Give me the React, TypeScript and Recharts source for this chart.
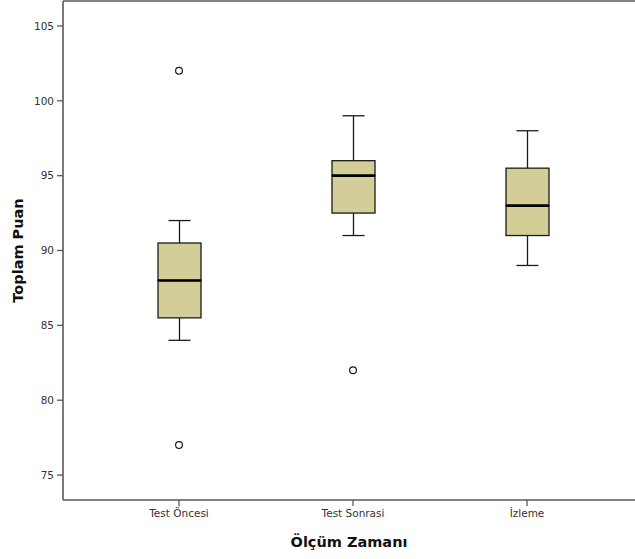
import { Bar, ComposedChart, Label, Scatter, XAxis, YAxis } from "recharts"

const categories = ["Test Öncesi", "Test Sonrasi", "İzleme"]
const mins = [84, 91, 89]
const q1s = [85.5, 92.5, 91]
const medians = [88, 95, 93]
const q3s = [90.5, 96, 95.5]
const maxs = [92, 99, 98]
// outliers per category (null = none)
const outliersHigh = [102, null, null]
const outliersLow = [77, 82, null]
const yTicks = [75, 80, 85, 90, 95, 100, 105]

const boxFill = "#d3ce97"
const ink = "#1a1a1a"
const axisColor = "#595959"
const font = "'DejaVu Sans', sans-serif"

const boxData = categories.map((name, i) => ({
  name,
  base: mins[i],
  lowWhisker: q1s[i] - mins[i],
  lowBox: medians[i] - q1s[i],
  highBox: q3s[i] - medians[i],
  highWhisker: maxs[i] - q3s[i],
  outHigh: outliersHigh[i],
  outLow: outliersLow[i],
}))

const LowWhisker = (props: any) => {
  const { x, y, width, height } = props
  const cx = x + width / 2
  return (
    <g stroke={ink} strokeWidth={1.3}>
      <line x1={cx} x2={cx} y1={y} y2={y + height} />
      <line x1={cx - 11} x2={cx + 11} y1={y + height} y2={y + height} />
    </g>
  )
}

const HighWhisker = (props: any) => {
  const { x, y, width, height } = props
  const cx = x + width / 2
  return (
    <g stroke={ink} strokeWidth={1.3}>
      <line x1={cx} x2={cx} y1={y} y2={y + height} />
      <line x1={cx - 11} x2={cx + 11} y1={y} y2={y} />
    </g>
  )
}

const LowBox = (props: any) => {
  const { x, y, width, height } = props
  return <rect x={x} y={y} width={width} height={height} fill={boxFill} stroke={ink} strokeWidth={1.3} />
}

const HighBox = (props: any) => {
  const { x, y, width, height } = props
  return (
    <g>
      <rect x={x} y={y} width={width} height={height} fill={boxFill} stroke={ink} strokeWidth={1.3} />
      <line x1={x} x2={x + width} y1={y + height} y2={y + height} stroke="#000" strokeWidth={2.6} />
    </g>
  )
}

const makeOutlier = (key: string) => (props: any) => {
  if (props.payload == null || props.payload[key] == null) return <g />
  return <circle cx={props.cx} cy={props.cy} r={3.4} fill="#fff" stroke={ink} strokeWidth={1.2} />
}

export default function App() {
  return (
    <div style={{ position: "absolute", left: 0, top: 0, background: "#fff" }}>
      <ComposedChart
        width={635}
        height={559}
        data={boxData}
        margin={{ top: 0, right: 0, bottom: 0, left: 0 }}
      >
        <XAxis
          dataKey="name"
          type="category"
          height={59}
          padding={{ left: 29, right: 21 }}
          axisLine={{ stroke: axisColor, strokeWidth: 1.6 }}
          tickLine={{ stroke: axisColor, strokeWidth: 1.3 }}
          tickSize={6}
          tickMargin={4}
          tick={{ fill: "#333", fontSize: 10.5, fontFamily: font }}
        >
          <Label
            value="Ölçüm Zamanı"
            position="insideBottom"
            offset={12}
            style={{ fill: "#111", fontSize: 14.5, fontWeight: "bold", fontFamily: font }}
          />
        </XAxis>
        {/* top frame line */}
        <XAxis
          xAxisId="top"
          dataKey="name"
          orientation="top"
          height={1}
          tick={false}
          tickLine={false}
          axisLine={{ stroke: axisColor, strokeWidth: 1.6 }}
        />
        <YAxis
          type="number"
          width={63}
          domain={[73.333, 106.667]}
          allowDataOverflow
          ticks={yTicks}
          axisLine={{ stroke: axisColor, strokeWidth: 1.6 }}
          tickLine={{ stroke: axisColor, strokeWidth: 1.3 }}
          tickSize={6}
          tickMargin={3}
          tick={{ fill: "#333", fontSize: 10.5, fontFamily: font }}
        >
          <Label
            value="Toplam Puan"
            angle={-90}
            position="insideLeft"
            offset={18}
            style={{ textAnchor: "middle", fill: "#111", fontSize: 14.5, fontWeight: "bold", fontFamily: font }}
          />
        </YAxis>
        <Bar dataKey="base" stackId="box" fill="transparent" barSize={43} isAnimationActive={false} />
        <Bar dataKey="lowWhisker" stackId="box" shape={LowWhisker} barSize={43} isAnimationActive={false} />
        <Bar dataKey="lowBox" stackId="box" shape={LowBox} barSize={43} isAnimationActive={false} />
        <Bar dataKey="highBox" stackId="box" shape={HighBox} barSize={43} isAnimationActive={false} />
        <Bar dataKey="highWhisker" stackId="box" shape={HighWhisker} barSize={43} isAnimationActive={false} />
        <Scatter dataKey="outHigh" shape={makeOutlier("outHigh")} isAnimationActive={false} />
        <Scatter dataKey="outLow" shape={makeOutlier("outLow")} isAnimationActive={false} />
      </ComposedChart>
    </div>
  )
}
